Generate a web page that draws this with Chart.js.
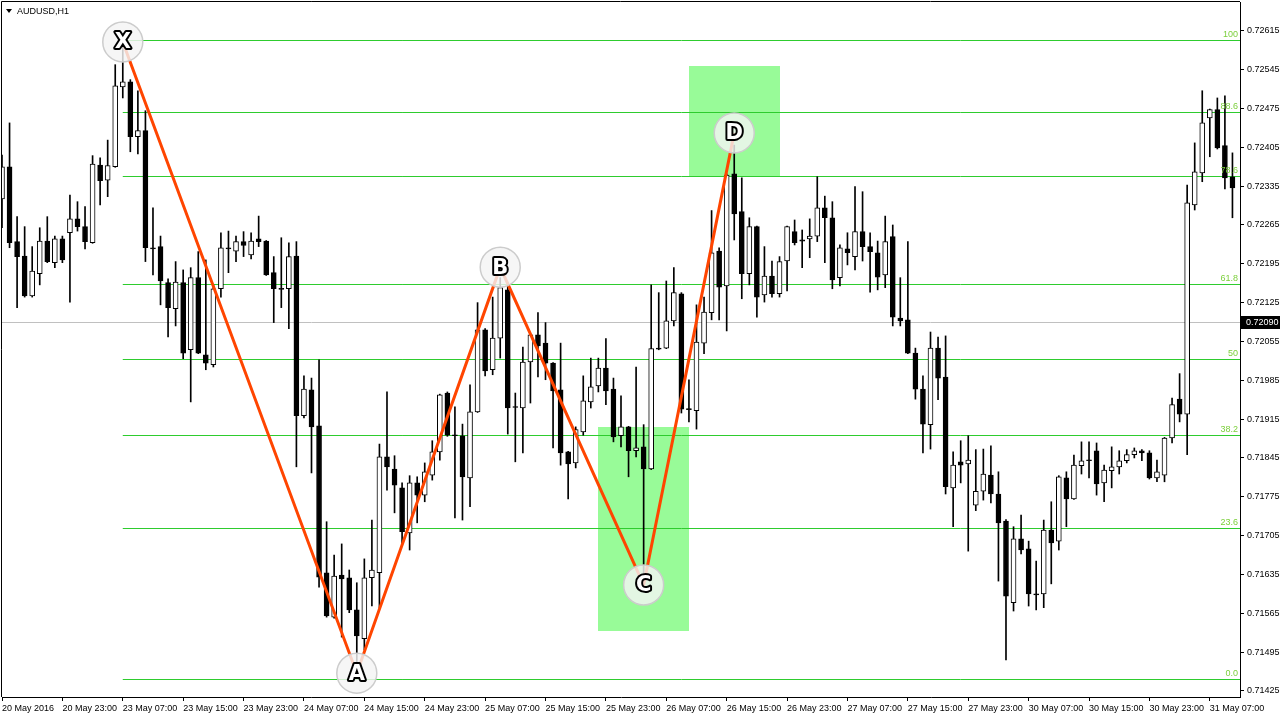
<!DOCTYPE html>
<html>
<head>
<meta charset="utf-8">
<script src="https://cdn.jsdelivr.net/npm/chart.js@4.4.0/dist/chart.umd.min.js"></script>
<style>
html,body{margin:0;padding:0;background:#fff;}
canvas{display:block;}
</style>
</head>
<body>
<canvas id="c" width="1280" height="720"></canvas>
<script>
// ---------- DATA ----------
const symbolTitle = 'AUDUSD,H1';
const firstTickText = '20 May 2016';
// trading days shown (H1 bars, weekend skipped) and the first hour on the first day
const tradingDays = [20, 23, 24, 25, 26, 27, 30, 31];
const firstHour = 15;
const slotCount = 165; // 164 bars + one empty shift slot

const opens = [0.72312,0.72370,0.72235,0.72209,0.72137,0.72177,0.72236,0.72197,0.72240,0.72251,
0.72276,0.72262,0.72233,0.72373,0.72346,0.72370,0.72514,0.72523,0.72424,0.72435,
0.72224,0.72226,0.72161,0.72114,0.72161,0.72040,0.72170,0.72031,0.72013,0.72150,
0.72224,0.72218,0.72235,0.72211,0.72240,0.72236,0.72179,0.72150,0.72150,0.72209,
0.71921,0.71968,0.71903,0.71638,0.71558,0.71634,0.71629,0.71571,0.71519,0.71629,
0.71638,0.71847,0.71825,0.71791,0.71710,0.71800,0.71778,0.71814,0.71856,0.71962,
0.71886,0.71885,0.71809,0.71928,0.72076,0.72004,0.72061,0.72148,0.71937,0.71935,
0.72018,0.72067,0.72052,0.72016,0.71968,0.71856,0.71836,0.71892,0.71946,0.71975,
0.72007,0.71969,0.71885,0.71901,0.71858,0.71865,0.71825,0.72043,0.72043,0.72092,
0.72141,0.71933,0.71930,0.72052,0.72107,0.72218,0.72155,0.72357,0.72289,0.72177,
0.72262,0.72139,0.72173,0.72141,0.72200,0.72253,0.72238,0.72240,0.72245,0.72296,
0.72278,0.72170,0.72222,0.72208,0.72253,0.72226,0.72215,0.72175,0.72244,0.72097,
0.72094,0.72034,0.71969,0.71905,0.72043,0.71991,0.71791,0.71838,0.71834,0.71760,
0.71785,0.71814,0.71780,0.71731,0.71584,0.71699,0.71681,0.71600,0.71600,0.71715,
0.71695,0.71809,0.71771,0.71831,0.71841,0.71858,0.71800,0.71822,0.71829,0.71840,
0.71851,0.71858,0.71854,0.71809,0.71814,0.71881,0.71951,0.71924,0.72301,0.72359,
0.72458,0.72473,0.72408,0.72352];

const highs = [0.72391,0.72449,0.72280,0.72262,0.72226,0.72260,0.72280,0.72245,0.72245,0.72319,
0.72307,0.72298,0.72390,0.72386,0.72418,0.72554,0.72599,0.72527,0.72507,0.72471,
0.72296,0.72245,0.72168,0.72199,0.72184,0.72188,0.72217,0.72202,0.72157,0.72251,
0.72254,0.72245,0.72253,0.72251,0.72281,0.72237,0.72208,0.72242,0.72233,0.72235,
0.71993,0.71989,0.72022,0.71730,0.71670,0.71690,0.71643,0.71620,0.71663,0.71733,
0.71870,0.71964,0.71849,0.71800,0.71813,0.71811,0.71836,0.71876,0.71960,0.71964,
0.71937,0.71906,0.71977,0.72125,0.72078,0.72135,0.72170,0.72161,0.71962,0.72045,
0.72068,0.72107,0.72089,0.72017,0.72052,0.71857,0.71901,0.71993,0.72025,0.72025,
0.72060,0.71989,0.71957,0.71902,0.72009,0.71905,0.72157,0.72143,0.72164,0.72188,
0.72143,0.71986,0.72121,0.72135,0.72291,0.72224,0.72357,0.72409,0.72350,0.72278,
0.72263,0.72226,0.72200,0.72208,0.72263,0.72274,0.72256,0.72276,0.72352,0.72317,
0.72307,0.72229,0.72251,0.72334,0.72325,0.72251,0.72236,0.72281,0.72265,0.72170,
0.72235,0.72043,0.71993,0.72072,0.72063,0.72065,0.71856,0.71876,0.71885,0.71860,
0.71861,0.71867,0.71820,0.71734,0.71721,0.71742,0.71695,0.71659,0.71733,0.71766,
0.71813,0.71820,0.71850,0.71874,0.71874,0.71872,0.71832,0.71865,0.71858,0.71860,
0.71863,0.71860,0.71858,0.71841,0.71882,0.71953,0.71997,0.72337,0.72413,0.72507,
0.72474,0.72494,0.72498,0.72395];

const lows = [0.72260,0.72224,0.72116,0.72135,0.72135,0.72157,0.72197,0.72188,0.72197,0.72126,
0.72254,0.72222,0.72232,0.72301,0.72316,0.72369,0.72494,0.72397,0.72393,0.72199,
0.72175,0.72121,0.72063,0.72083,0.72024,0.71946,0.72033,0.72004,0.72009,0.72135,
0.72179,0.72199,0.72208,0.72204,0.72226,0.72174,0.72089,0.72116,0.72078,0.71829,
0.71917,0.71818,0.71612,0.71558,0.71556,0.71522,0.71566,0.71447,0.71499,0.71578,
0.71575,0.71787,0.71746,0.71690,0.71679,0.71728,0.71766,0.71805,0.71841,0.71884,
0.71737,0.71733,0.71757,0.71927,0.71993,0.71995,0.72025,0.71888,0.71838,0.71854,
0.71944,0.71991,0.71986,0.71863,0.71832,0.71771,0.71827,0.71886,0.71935,0.71964,
0.71941,0.71874,0.71865,0.71811,0.71847,0.71634,0.71824,0.72040,0.72042,0.72083,
0.71926,0.71910,0.71897,0.72033,0.72094,0.72094,0.72074,0.72238,0.72132,0.72157,
0.72099,0.72126,0.72135,0.72135,0.72146,0.72229,0.72188,0.72206,0.72235,0.72197,
0.72150,0.72155,0.72193,0.72184,0.72200,0.72144,0.72148,0.72152,0.72083,0.72083,
0.72033,0.71951,0.71854,0.71861,0.71950,0.71780,0.71721,0.71800,0.71677,0.71750,
0.71769,0.71764,0.71623,0.71481,0.71569,0.71672,0.71578,0.71571,0.71575,0.71618,
0.71679,0.71721,0.71770,0.71816,0.71809,0.71778,0.71766,0.71791,0.71816,0.71836,
0.71845,0.71840,0.71807,0.71802,0.71802,0.71872,0.71910,0.71851,0.72292,0.72343,
0.72388,0.72402,0.72330,0.72278];

const closes = [0.72370,0.72233,0.72208,0.72137,0.72182,0.72236,0.72199,0.72240,0.72202,0.72276,
0.72262,0.72235,0.72375,0.72345,0.72372,0.72516,0.72523,0.72424,0.72435,0.72224,
0.72222,0.72164,0.72116,0.72162,0.72034,0.72170,0.72034,0.72016,0.72150,0.72224,
0.72222,0.72235,0.72228,0.72236,0.72235,0.72175,0.72150,0.72149,0.72208,0.71921,
0.71969,0.71901,0.71630,0.71560,0.71632,0.71627,0.71571,0.71524,0.71629,0.71643,
0.71847,0.71829,0.71796,0.71712,0.71800,0.71778,0.71820,0.71856,0.71959,0.71886,
0.71885,0.71811,0.71928,0.72076,0.72002,0.72061,0.72152,0.71935,0.71936,0.72018,
0.72067,0.72047,0.72016,0.71966,0.71854,0.71834,0.71896,0.71948,0.71973,0.72007,
0.71966,0.71883,0.71901,0.71858,0.71863,0.71825,0.72042,0.72041,0.72092,0.72143,
0.71933,0.71932,0.72054,0.72108,0.72215,0.72153,0.72355,0.72285,0.72177,0.72262,
0.72135,0.72173,0.72141,0.72199,0.72262,0.72233,0.72236,0.72245,0.72296,0.72278,
0.72166,0.72224,0.72215,0.72253,0.72226,0.72217,0.72171,0.72235,0.72099,0.72092,
0.72034,0.71969,0.71906,0.72043,0.71989,0.71793,0.71832,0.71832,0.71841,0.71785,
0.71816,0.71780,0.71728,0.71596,0.71699,0.71679,0.71600,0.71598,0.71715,0.71692,
0.71811,0.71771,0.71832,0.71840,0.71840,0.71798,0.71823,0.71829,0.71840,0.71851,
0.71858,0.71854,0.71809,0.71820,0.71881,0.71941,0.71924,0.72305,0.72361,0.72449,
0.72473,0.72404,0.72350,0.72332];

const yTicks = [0.72615,0.72545,0.72475,0.72405,0.72335,0.72265,0.72195,0.72125,0.72055,
0.71985,0.71915,0.71845,0.71775,0.71705,0.71635,0.71565,0.71495,0.71425];
const yMin = 0.71414, yMax = 0.72667;
const xTickEvery = 8;

// Fibonacci retracement (X high -> A low)
const fibLabels = ['0.0','23.6','38.2','50','61.8','78.6','88.6','100'];
const fibPrices = [0.71447,0.71719,0.71887,0.72023,0.72159,0.72353,0.72468,0.72599];
const fibStartBar = 16;

// XABCD pattern
const patternNames = ['X','A','B','C','D'];
const patternBars = [16, 47, 66, 85, 97];
const patternPrices = [0.72595, 0.71457, 0.72189, 0.71616, 0.72431];

// Green zones
const zoneStart = [79, 91];
const zoneEnd = [91, 103];
const zoneHigh = [0.71901, 0.72552];
const zoneLow = [0.71533, 0.72354];

const currentPrice = 0.72090;

// ---------- BUILD ----------
const categories = [];
tradingDays.forEach((d, di) => {
  for (let h = (di === 0 ? firstHour : 0); h < 24; h++) {
    categories.push(d + ' May ' + String(h).padStart(2, '0') + ':00');
  }
});
categories.length = slotCount;

const FONT = '"Liberation Sans", Arial, sans-serif';

const overlay = {
  id: 'overlay',
  beforeDatasetsDraw(chart) {
    const {ctx, chartArea: a, scales: {x, y}} = chart;
    ctx.save();
    ctx.beginPath(); ctx.rect(a.left, a.top, a.right - a.left, a.bottom - a.top); ctx.clip();
    // zones
    ctx.fillStyle = '#98fb98';
    for (let i = 0; i < zoneStart.length; i++) {
      const x1 = x.getPixelForValue(zoneStart[i]), x2 = x.getPixelForValue(zoneEnd[i]);
      const y1 = y.getPixelForValue(zoneHigh[i]), y2 = y.getPixelForValue(zoneLow[i]);
      ctx.fillRect(Math.round(x1), Math.round(y1), Math.round(x2 - x1), Math.round(y2 - y1));
    }
    // price line
    const py = Math.round(y.getPixelForValue(currentPrice)) + 0.5;
    ctx.strokeStyle = '#c0c0c0'; ctx.lineWidth = 1;
    ctx.beginPath(); ctx.moveTo(a.left, py); ctx.lineTo(a.right, py); ctx.stroke();
    // fib lines
    const xs = x.getPixelForValue(fibStartBar);
    ctx.strokeStyle = '#2ecc2e';
    fibPrices.forEach(p => {
      const yy = Math.round(y.getPixelForValue(p)) + 0.5;
      ctx.beginPath(); ctx.moveTo(xs, yy); ctx.lineTo(a.right, yy); ctx.stroke();
    });
    ctx.restore();
  },
  afterDatasetsDraw(chart) {
    const {ctx, chartArea: a, scales: {y}} = chart;
    ctx.save();
    // fib labels
    ctx.font = '9px ' + FONT;
    ctx.fillStyle = '#7ccf3c';
    ctx.textAlign = 'right'; ctx.textBaseline = 'bottom';
    fibPrices.forEach((p, i) => {
      ctx.fillText(fibLabels[i], a.right - 2, Math.round(y.getPixelForValue(p)) - 1);
    });
    // pattern letters
    const meta = chart.getDatasetMeta(2);
    ctx.font = 'bold 21px "DejaVu Sans", sans-serif';
    ctx.textAlign = 'center'; ctx.textBaseline = 'middle';
    ctx.lineJoin = 'round';
    meta.data.forEach((pt, i) => {
      ctx.lineWidth = 4; ctx.strokeStyle = '#000';
      ctx.strokeText(patternNames[i], pt.x, pt.y + 1);
      ctx.fillStyle = '#fff';
      ctx.fillText(patternNames[i], pt.x, pt.y + 1);
    });
    ctx.restore();
  },
  afterDraw(chart) {
    const {ctx, chartArea: a, scales: {y}} = chart;
    ctx.save();
    // frame top & left
    ctx.strokeStyle = '#000'; ctx.lineWidth = 1;
    ctx.beginPath();
    ctx.moveTo(a.left - 0.5, a.bottom); ctx.lineTo(a.left - 0.5, a.top - 0.5); ctx.lineTo(a.right, a.top - 0.5);
    ctx.stroke();
    // title
    ctx.fillStyle = '#000';
    ctx.beginPath(); ctx.moveTo(6, 9); ctx.lineTo(12, 9); ctx.lineTo(9, 13); ctx.closePath(); ctx.fill();
    ctx.font = '9px ' + FONT; ctx.textAlign = 'left'; ctx.textBaseline = 'middle';
    ctx.fillText(symbolTitle, 17, 11.5);
    // current price tag
    const py = Math.round(y.getPixelForValue(currentPrice));
    ctx.fillStyle = '#000';
    ctx.fillRect(a.right + 1, py - 6, 40, 13);
    ctx.fillStyle = '#fff';
    ctx.fillText(currentPrice.toFixed(5), a.right + 6, py + 0.5);
    ctx.restore();
  }
};

new Chart(document.getElementById('c'), {
  type: 'bar',
  data: {
    labels: categories,
    datasets: [
      { // wicks
        type: 'bar',
        data: lows.map((l, i) => [l, highs[i]]),
        backgroundColor: '#000',
        borderWidth: 0,
        barThickness: 1,
        grouped: false,
        order: 3
      },
      { // bodies
        type: 'bar',
        data: opens.map((o, i) => [o, closes[i]]),
        backgroundColor: opens.map((o, i) => closes[i] >= o ? '#ffffff' : '#000000'),
        borderColor: '#000',
        borderWidth: 1,
        borderSkipped: false,
        barThickness: 5,
        minBarLength: 1,
        grouped: false,
        order: 2
      },
      { // XABCD
        type: 'line',
        data: patternBars.map((b, i) => ({x: categories[b], y: patternPrices[i]})),
        borderColor: '#ff4500',
        borderWidth: 3,
        tension: 0,
        pointRadius: 20,
        pointBackgroundColor: 'rgba(244,244,244,0.82)',
        pointBorderColor: '#cccccc',
        pointBorderWidth: 1.5,
        clip: false,
        order: 1
      }
    ]
  },
  options: {
    responsive: false,
    animation: false,
    devicePixelRatio: 1,
    layout: { autoPadding: false, padding: { top: 2, left: 2, right: 0, bottom: 0 } },
    plugins: { legend: { display: false }, tooltip: { enabled: false }, title: { display: false } },
    scales: {
      x: {
        type: 'category',
        offset: false,
        afterBuildTicks: s => { s.ticks = s.ticks.filter(t => t.value % xTickEvery === 0); },
        afterFit: s => { s.height = 23; s.paddingLeft = 0; s.paddingRight = 0; },
        ticks: {
          autoSkip: false, maxRotation: 0, minRotation: 0, align: 'start',
          callback: v => v === 0 ? firstTickText : categories[v],
          font: { family: FONT, size: 9 }, color: '#000', padding: 2
        },
        grid: { drawOnChartArea: false, drawTicks: true, tickLength: 4, color: '#000', offset: false },
        border: { display: true, color: '#000' }
      },
      y: {
        position: 'right',
        min: yMin, max: yMax,
        afterBuildTicks: s => { s.ticks = yTicks.map(v => ({value: v})); },
        afterFit: s => { s.width = 40; s.paddingTop = 0; s.paddingBottom = 0; },
        ticks: {
          callback: v => Number(v).toFixed(5),
          font: { family: FONT, size: 9 }, color: '#000', padding: 3
        },
        grid: { drawOnChartArea: false, drawTicks: true, tickLength: 4, color: '#000' },
        border: { display: true, color: '#000' }
      }
    }
  },
  plugins: [overlay]
});
</script>
</body>
</html>
